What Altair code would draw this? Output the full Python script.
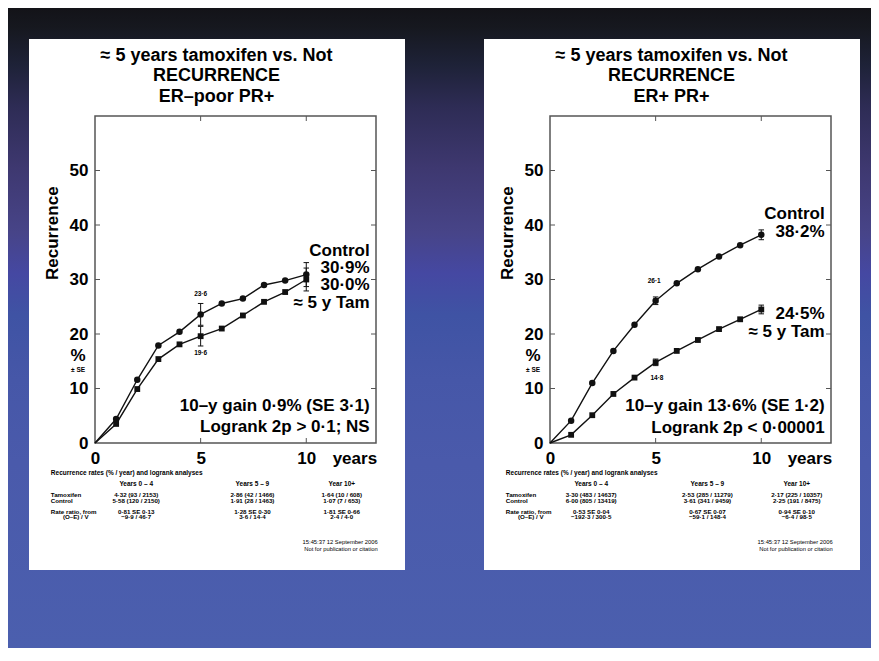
import altair as alt
import pandas as pd

# ---------------- data ----------------
years = [0, 1, 2, 3, 4, 5, 6, 7, 8, 9, 10]
erpoor_control = [0, 4.4, 11.6, 17.9, 20.4, 23.6, 25.6, 26.5, 29.0, 29.8, 30.9]
erpoor_tam = [0, 3.5, 9.9, 15.4, 18.1, 19.6, 21.0, 23.4, 25.9, 27.7, 30.0]
erpos_control = [0, 4.1, 11.0, 16.9, 21.7, 26.1, 29.3, 31.9, 34.2, 36.3, 38.2]
erpos_tam = [0, 1.5, 5.1, 9.0, 12.0, 14.8, 16.9, 18.9, 20.9, 22.7, 24.5]

se_years = [5, 10]
erpoor_control_se = [2.0, 2.2]
erpoor_tam_se = [1.8, 2.1]
erpos_control_se = [0.7, 0.9]
erpos_tam_se = [0.6, 0.8]

title_lines_left = ["≈ 5 years tamoxifen vs. Not", "RECURRENCE", "ER–poor PR+"]
title_lines_right = ["≈ 5 years tamoxifen vs. Not", "RECURRENCE", "ER+ PR+"]

left_small_text = ["23·6", "19·6"]
left_small_x = [5.0, 5.0]
left_small_y = [27.3, 16.6]
right_small_text = ["26·1", "14·8"]
right_small_x = [4.93, 5.06]
right_small_y = [29.7, 12.0]

left_ann_text = ["Control", "30·9%", "30·0%", "≈ 5 y Tam",
                 "10–y gain 0·9% (SE 3·1)", "Logrank 2p > 0·1; NS"]
left_ann_y = [35.3, 32.1, 28.9, 25.6, 6.7, 3.0]
right_ann_text = ["Control", "38·2%", "24·5%", "≈ 5 y Tam",
                  "10–y gain 13·6% (SE 1·2)", "Logrank 2p < 0·00001"]
right_ann_y = [42.1, 38.7, 23.7, 20.3, 6.7, 2.7]

table_header = "Recurrence rates (% / year) and logrank analyses"
table_cols = ["Years 0 – 4", "Years 5 – 9", "Year 10+"]
row_labels = ["Tamoxifen", "Control", "Rate ratio, from"]
row_label2 = "(O–E) / V"
left_tam_rates = ["4·32 (93 / 2153)", "2·86 (42 / 1466)", "1·64 (10 / 608)"]
left_ctrl_rates = ["5·58 (120 / 2150)", "1·91 (28 / 1463)", "1·07 (7 / 653)"]
left_ratio = ["0·81 SE 0·13", "1·28 SE 0·30", "1·81 SE 0·66"]
left_oev = ["−9·9 / 46·7", "3·6 / 14·4", "2·4 / 4·0"]
right_tam_rates = ["3·30 (483 / 14637)", "2·53 (285 / 11279)", "2·17 (225 / 10357)"]
right_ctrl_rates = ["6·00 (805 / 13419)", "3·61 (341 / 9459)", "2·25 (191 / 8475)"]
right_ratio = ["0·53 SE 0·04", "0·67 SE 0·07", "0·94 SE 0·10"]
right_oev = ["−192·3 / 300·5", "−59·1 / 148·4", "−6·4 / 98·5"]
footer = ["15:45:37   12 September 2006", "Not for publication or citation"]

x_ticks = [0, 5, 10]
y_ticks = [0, 10, 20, 30, 40, 50]
inner_y_ticks = [10, 20, 30, 40, 50]
inner_x_ticks = [5, 10]

# ---------------- layout constants ----------------
W, H = 281, 327
XMAX, YMAX = 13.3, 60
FONT = "Liberation Sans"
INK = "#111111"
FRAME = "#555555"

xaxis = alt.Axis(values=x_ticks, ticks=False, domain=False, grid=False, title=None,
                 labelFont=FONT, labelFontSize=17, labelFontWeight="bold",
                 labelColor="black", labelPadding=7, labelFlush=False,
                 labelOverlap=False, zindex=2)
yaxis = alt.Axis(values=y_ticks, ticks=False, domain=False, grid=False, title=None,
                 labelFont=FONT, labelFontSize=17, labelFontWeight="bold",
                 labelColor="black", labelPadding=7, labelFlush=False,
                 labelOverlap=False, zindex=2)


def X(f):
    return alt.X(f, type="quantitative",
                 scale=alt.Scale(domain=[0, XMAX], nice=False, zero=False), axis=xaxis)


def Y(f):
    return alt.Y(f, type="quantitative",
                 scale=alt.Scale(domain=[0, YMAX], nice=False, zero=False), axis=yaxis)


def prect(x0, x1, y0, y1, **mk):
    return alt.Chart(pd.DataFrame({"k": [0]})).mark_rect(**mk).encode(
        x=alt.value(x0), x2=alt.value(x1), y=alt.value(y0), y2=alt.value(y1))


def texts(xs, ys, ts, align, size, weight="bold", angle=None):
    kw = dict(align=align, baseline="middle", font=FONT, fontSize=size,
              fontWeight=weight, color="black")
    if angle is not None:
        kw["angle"] = angle
    df = pd.DataFrame({"x": xs, "y": ys, "t": ts})
    return alt.Chart(df).mark_text(**kw).encode(x=X("x"), y=Y("y"), text="t:N")


def panel(titles, control, tam, control_se, tam_se, small, ann, table, with_bg):
    layers = []
    if with_bg:
        grad = alt.LinearGradient(
            gradient="linear", x1=0, x2=0, y1=0, y2=1,
            stops=[alt.GradientStop(color="#131318", offset=0),
                   alt.GradientStop(color="#16181f", offset=0.03),
                   alt.GradientStop(color="#1e2238", offset=0.09),
                   alt.GradientStop(color="#2e2c55", offset=0.155),
                   alt.GradientStop(color="#3e3870", offset=0.25),
                   alt.GradientStop(color="#474488", offset=0.35),
                   alt.GradientStop(color="#4548a2", offset=0.415),
                   alt.GradientStop(color="#3f53a4", offset=0.48),
                   alt.GradientStop(color="#4657a8", offset=0.58),
                   alt.GradientStop(color="#4a5aab", offset=0.71),
                   alt.GradientStop(color="#4b5fae", offset=1)])
        layers.append(prect(-87, 776, -108, 532, color=grad))
    layers.append(prect(-66, 310, -77, 454, color="white"))

    # inward ticks
    ydf = pd.DataFrame({"y": inner_y_ticks})
    xdf = pd.DataFrame({"x": inner_x_ticks})
    layers.append(alt.Chart(ydf).mark_rule(color=FRAME, strokeWidth=1).encode(
        y=Y("y"), x=alt.value(0), x2=alt.value(5)))
    layers.append(alt.Chart(ydf).mark_rule(color=FRAME, strokeWidth=1).encode(
        y=Y("y"), x=alt.value(W - 5), x2=alt.value(W)))
    layers.append(alt.Chart(xdf).mark_rule(color=FRAME, strokeWidth=1).encode(
        x=X("x"), y=alt.value(H - 5), y2=alt.value(H)))
    layers.append(alt.Chart(xdf).mark_rule(color=FRAME, strokeWidth=1).encode(
        x=X("x"), y=alt.value(0), y2=alt.value(5)))
    layers.append(prect(0, W, 0, H, fillOpacity=0, stroke=FRAME, strokeWidth=1.5))

    # curves
    for vals, shape, sz in [(control, "circle", 42), (tam, "square", 34)]:
        df = pd.DataFrame({"x": years, "y": vals})
        layers.append(alt.Chart(df).mark_line(color=INK, strokeWidth=1.4).encode(
            x=X("x"), y=Y("y")))
        layers.append(alt.Chart(df.iloc[1:]).mark_point(
            shape=shape, filled=True, color=INK, size=sz, opacity=1).encode(
            x=X("x"), y=Y("y")))

    # error bars
    for vals, ses in [(control, control_se), (tam, tam_se)]:
        centers = [vals[years.index(s)] for s in se_years]
        df = pd.DataFrame({"x": se_years,
                           "lo": [c - e for c, e in zip(centers, ses)],
                           "hi": [c + e for c, e in zip(centers, ses)]})
        layers.append(alt.Chart(df).mark_rule(color=INK, strokeWidth=1).encode(
            x=X("x"), y=Y("lo"), y2="hi"))
        for col in ["lo", "hi"]:
            layers.append(alt.Chart(df).mark_point(
                shape="M-1,0L1,0", filled=False, color=INK, strokeWidth=1,
                size=30, opacity=1).encode(x=X("x"), y=Y(col)))

    st, sx, sy = small
    layers.append(texts(sx, sy, st, "center", 6.5))

    at, ay = ann
    layers.append(texts([13.0] * len(at), ay, at, "right", 17))

    # axis decorations
    layers.append(texts([-1.99], [38.5], ["Recurrence"], "center", 17, angle=270))
    layers.append(texts([-0.8], [15.9], ["%"], "center", 17))
    layers.append(texts([-0.8], [13.4], ["± SE"], "center", 6.5))
    layers.append(texts([12.3], [-2.94], ["years"], "center", 17))

    # titles
    layers.append(texts([5.75] * 3, [71.1, 67.25, 63.5], titles, "center", 18))

    # table
    tam_r, ctrl_r, ratio_r, oev_r = table
    col_x = [1.95, 7.45, 11.68]
    layers.append(texts([-2.09], [-5.45], [table_header], "left", 6.5))
    layers.append(texts([-2.09] * 3, [-9.54, -10.59, -12.61], row_labels, "left", 6.2))
    layers.append(texts([-1.52], [-13.65], [row_label2], "left", 6.2))
    cx, cy, ct = [], [], []
    for yy, row in [(-9.54, tam_r), (-10.59, ctrl_r),
                    (-12.61, ratio_r), (-13.65, oev_r)]:
        for xx, t in zip(col_x, row):
            cx.append(xx)
            cy.append(yy)
            ct.append(t)
    layers.append(texts(col_x, [-7.58] * 3, table_cols, "center", 6.5))
    layers.append(texts(cx, cy, ct, "center", 6.2))
    layers.append(texts([13.38, 13.38], [-18.22, -19.45], footer, "right", 5.8,
                        weight="normal"))

    return alt.layer(*layers).properties(width=W, height=H)


left = panel(title_lines_left, erpoor_control, erpoor_tam, erpoor_control_se, erpoor_tam_se,
             (left_small_text, left_small_x, left_small_y),
             (left_ann_text, left_ann_y),
             (left_tam_rates, left_ctrl_rates, left_ratio, left_oev), True)
right = panel(title_lines_right, erpos_control, erpos_tam, erpos_control_se, erpos_tam_se,
              (right_small_text, right_small_x, right_small_y),
              (right_ann_text, right_ann_y),
              (right_tam_rates, right_ctrl_rates, right_ratio, right_oev), False)

chart = alt.hconcat(left, right, spacing=174, bounds="flush").properties(
    padding=0, background="#4b5fae"
).configure_view(stroke=None)

chart.save("out.html", embed_options={"renderer": "svg", "actions": False})
